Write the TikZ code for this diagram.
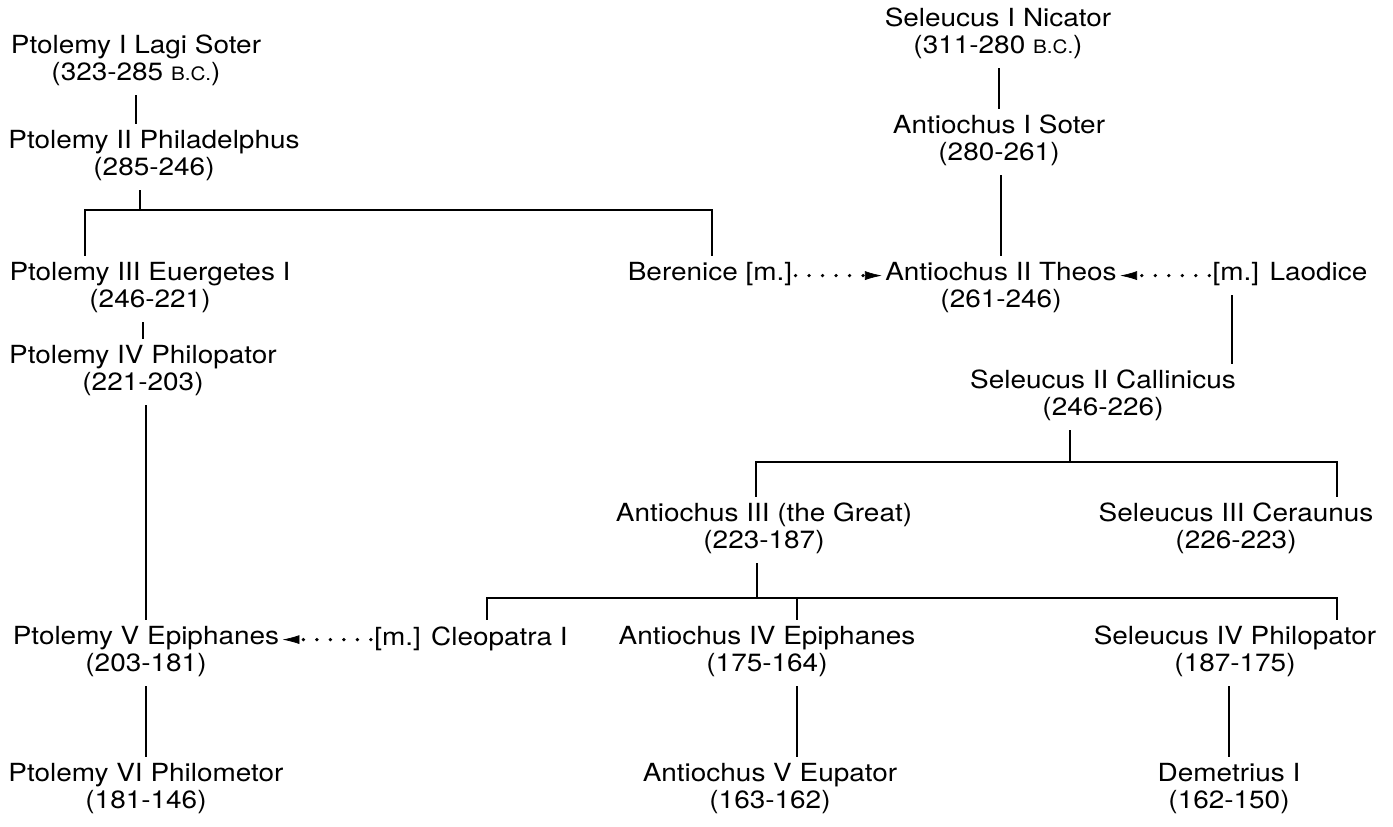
\documentclass[tikz,border=0pt]{standalone}
\usepackage{fontspec}
\setmainfont{TeX Gyre Heros}[FakeStretch=1.12]
\usetikzlibrary{arrows.meta}
\newcommand{\pfsize}{\fontsize{14.2}{15.37}\selectfont}
\newcommand{\bcsc}{{\fontsize{10.5}{15.37}\selectfont B.C.}}
\newcommand{\twoline}[2]{#1\strut\\#2\strut}
\newcommand{\oneline}[1]{#1\strut}
\tikzset{
  person/.style={align=center, font=\pfsize, inner xsep=0.6mm, inner ysep=1.2mm},
  conn/.style={line width=0.9pt},
  wed/.style={line width=2.1pt, dash pattern=on 0pt off 2.7mm, line cap=round,
              -{Latex[length=3.4mm,width=1.8mm,line width=0.4pt]}}
}
\begin{document}
\begin{tikzpicture}[x=0.02cm, y=-0.02cm]
\useasboundingbox (0,0) rectangle (1393,827);

% Ptolemies
\node[person] (p1) at (136,62)  {\twoline{Ptolemy I Lagi Soter}{(323-285 \bcsc)}};
\node[person] (p2) at (154,157) {\twoline{Ptolemy II Philadelphus}{(285-246)}};
\node[person] (p3) at (150,289) {\twoline{Ptolemy III Euergetes I}{(246-221)}};
\node[person] (p4) at (143,372) {\twoline{Ptolemy IV Philopator}{(221-203)}};
\node[person] (p5) at (146,653) {\twoline{Ptolemy V Epiphanes}{(203-181)}};
\node[person] (p6) at (146,790) {\twoline{Ptolemy VI Philometor}{(181-146)}};

% Seleucids
\node[person] (s1)   at (998,35)   {\twoline{Seleucus I Nicator}{(311-280 \bcsc)}};
\node[person] (s2)   at (999,142)  {\twoline{Antiochus I Soter}{(280-261)}};
\node[person] (ber)  at (710,275.6){\oneline{Berenice [m.]}};
\node[person] (ant2) at (1001,289) {\twoline{Antiochus II Theos}{(261-246)}};
\node[person] (lao)  at (1290,275.6){\oneline{[m.] Laodice}};
\node[person] (sel2) at (1103,397) {\twoline{Seleucus II Callinicus}{(246-226)}};
\node[person] (ant3) at (764,530)  {\twoline{Antiochus III (the Great)}{(223-187)}};
\node[person] (sel3) at (1236,530) {\twoline{Seleucus III Ceraunus}{(226-223)}};
\node[person] (cle)  at (471,639.6){\oneline{[m.] Cleopatra I}};
\node[person] (ant4) at (767,653)  {\twoline{Antiochus IV Epiphanes}{(175-164)}};
\node[person] (sel4) at (1235,653) {\twoline{Seleucus IV Philopator}{(187-175)}};
\node[person] (ant5) at (770,790)  {\twoline{Antiochus V Eupator}{(163-162)}};
\node[person] (dem)  at (1229,790) {\twoline{Demetrius I}{(162-150)}};

% bar coordinates
\coordinate (b1L) at (85,210);
\coordinate (b1M) at (140,210);
\coordinate (b1R) at (712,210);
\coordinate (lx)  at (1232,0);
\coordinate (b2L) at (756,462);
\coordinate (b2M) at (1070,462);
\coordinate (b2R) at (1337,462);
\coordinate (b3L) at (487,598);
\coordinate (b3M) at (757,598);
\coordinate (b3C) at (797,598);
\coordinate (b3R) at (1337,598);

% Ptolemaic line
\draw[conn] (p1.south) -- (p1.south |- p2.north);
\draw[conn] (p2.south -| b1M) -- (b1M);
\draw[conn] (p3.north -| b1L) -- (b1L) -- (b1R) -- (ber.north -| b1R);
\draw[conn] (p4.north |- p3.south) -- (p4.north);
\draw[conn] (p5.north |- p4.south) -- (p5.north);
\draw[conn] (p5.south) -- (p5.south |- p6.north);

% Seleucid line
\draw[conn] (s1.south -| s2.north) -- (s2.north);
\draw[conn] (s2.south -| ant2.north) -- (ant2.north);
\draw[conn] (lao.south -| lx) -- (sel2.north -| lx);
\draw[conn] (sel2.south -| b2M) -- (b2M);
\draw[conn] (ant3.north -| b2L) -- (b2L) -- (b2R) -- (sel3.north -| b2R);
\draw[conn] (ant3.south -| b3M) -- (b3M);
\draw[conn] (cle.north -| b3L) -- (b3L) -- (b3R) -- (sel4.north -| b3R);
\draw[conn] (b3C) -- (ant4.north -| b3C);
\draw[conn] (ant4.south -| b3C) -- (ant5.north -| b3C);
\draw[conn] (dem.north |- sel4.south) -- (dem.north);

% marriages
\draw[wed] (ber.east) -- (ber.east -| ant2.west);
\draw[wed] (lao.west) -- (lao.west -| ant2.east);
\draw[wed] (cle.west) -- (cle.west -| p5.east);
\end{tikzpicture}
\end{document}
